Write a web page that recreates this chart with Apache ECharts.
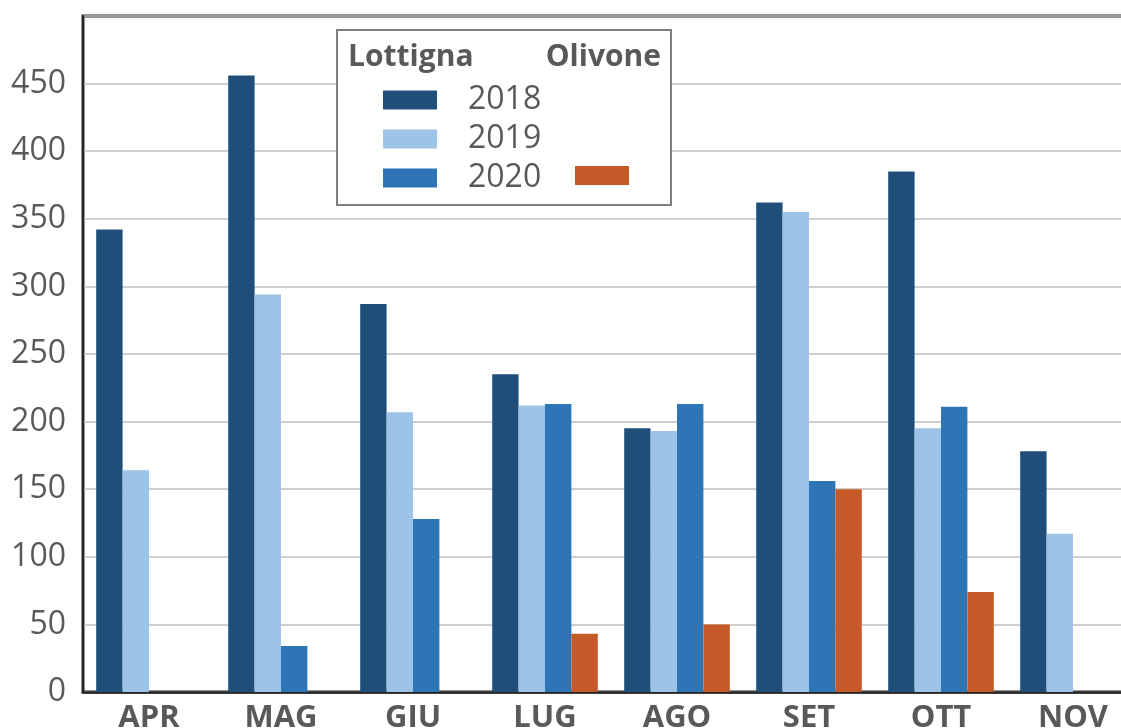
<!DOCTYPE html>
<html>
<head>
<meta charset="utf-8">
<script src="https://cdn.jsdelivr.net/npm/echarts@6/dist/echarts.min.js"></script>
<style>html{overflow:hidden;scrollbar-width:none}::-webkit-scrollbar{display:none;width:0;height:0}html,body{margin:0;padding:0;background:#fff;width:1121px;height:728px}body{overflow:hidden;position:relative}#c{position:absolute;left:0;top:0;width:1139px;height:728px}</style>
</head>
<body>
<div id="c"></div>
<script>
const categories = ['APR','MAG','GIU','LUG','AGO','SET','OTT','NOV'];
const lottigna2018 = [342, 456, 287, 235, 195, 362, 385, 178];
const lottigna2019 = [164, 294, 207, 212, 193, 355, 195, 117];
const lottigna2020 = [null, 34, 128, 213, 213, 156, 211, null];
const olivone2020 = [null, null, null, 43, 50, 150, 74, null];

const FONT = '"Open Sans", sans-serif';
const GREY = '#595959';
const chart = echarts.init(document.getElementById('c'), null, {renderer:'canvas'});
chart.setOption({
  animation: false,
  backgroundColor: '#fff',
  grid: {left: 83, top: 16, right: 0, bottom: 36, outerBoundsMode: 'none', containLabel: false,
         show: true, borderColor: '#262626', borderWidth: 3, backgroundColor: 'transparent'},
  xAxis: {
    type: 'category', data: categories,
    axisLine: {show: true, lineStyle: {color: '#262626', width: 2.5}},
    axisTick: {show: false},
    axisLabel: {color: GREY, fontFamily: FONT, fontWeight: 'bold', fontSize: 31, margin: 11}
  },
  yAxis: {
    type: 'value', min: 0, max: 500, interval: 50,
    axisLine: {show: true, lineStyle: {color: '#262626', width: 2}},
    axisTick: {show: false},
    axisLabel: {color: GREY, fontFamily: FONT, fontSize: 32, margin: 17, showMaxLabel: false},
    splitLine: {lineStyle: {color: '#bfbfbf', width: 1.5}}
  },
  legend: [
    {data: ['2018','2019','2020'], orient: 'vertical', left: 383, top: 84, padding: 0,
     itemWidth: 54, itemHeight: 19, itemGap: 7, icon: 'rect', z: 10,
     textStyle: {color: GREY, fontFamily: FONT, fontSize: 32, lineHeight: 31, padding: [0,0,0,26]}},
    {data: ['Olivone 2020'], left: 575, top: 166, padding: 0, itemWidth: 54, itemHeight: 19, icon: 'rect', z: 10,
     formatter: function(){ return ''; }}
  ],
  graphic: [
    {type: 'rect', z: 8, shape: {x: 337, y: 30, width: 334, height: 175}, style: {fill: '#fff', stroke: '#7f7f7f', lineWidth: 2}},
    {type: 'text', z: 9, x: 348, y: 57, style: {text: 'Lottigna', fill: GREY, font: 'bold 30px "Open Sans", sans-serif', verticalAlign: 'middle', align: 'left'}},
    {type: 'text', z: 9, x: 661, y: 57, style: {text: 'Olivone', fill: GREY, font: 'bold 30px "Open Sans", sans-serif', verticalAlign: 'middle', align: 'right'}}
  ],
  series: [
    {name: '2018', type: 'bar', data: lottigna2018, barGap: '0%', barCategoryGap: '20%', itemStyle: {color: '#1f4e79'}},
    {name: '2019', type: 'bar', data: lottigna2019, itemStyle: {color: '#9dc3e6'}},
    {name: '2020', type: 'bar', data: lottigna2020, itemStyle: {color: '#2e75b6'}},
    {name: 'Olivone 2020', type: 'bar', data: olivone2020, itemStyle: {color: '#c55a28'}}
  ]
});
</script>
</body>
</html>
